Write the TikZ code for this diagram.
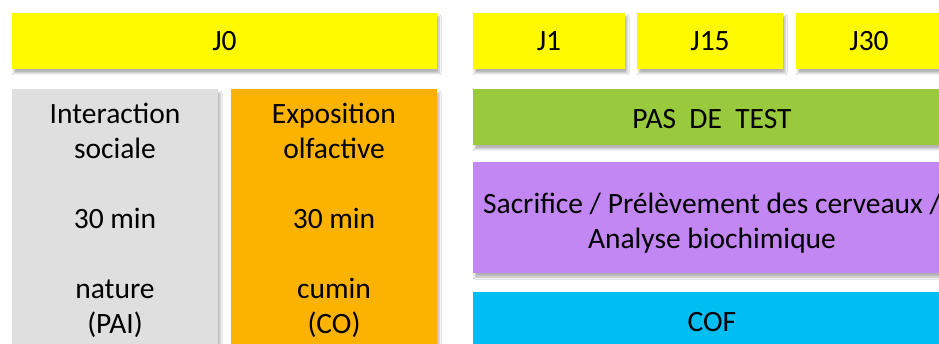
\documentclass[tikz,border=0pt]{standalone}
\usepackage{fontspec}
\setmainfont{Carlito}
\usetikzlibrary{shadows.blur}
\definecolor{cyel}{HTML}{FFFA00}
\definecolor{cgray}{HTML}{DFDFDF}
\definecolor{corange}{HTML}{FBB300}
\definecolor{cgreen}{HTML}{99C93C}
\definecolor{cpurple}{HTML}{C387F3}
\definecolor{ccyan}{HTML}{00BEF2}
\tikzset{
  txt/.style={inner sep=0pt, outer sep=0pt, align=center, font=\fontsize{29.5}{35}\selectfont},
  box/.style={rectangle, txt,
    blur shadow={shadow xshift=2pt, shadow yshift=-4pt, shadow blur steps=6, shadow blur radius=2pt, shadow opacity=30}},
  daybox/.style={box, fill=cyel, minimum height=56pt},
}
\begin{document}
\begin{tikzpicture}[x=1pt,y=-1pt]
\clip (0,0) rectangle (939,344);
\fill[white] (0,0) rectangle (939,344);
\node[daybox, minimum width=425pt] (j0) at (224.5,41) {J0};
\node[daybox, minimum width=152pt] (j1) at (549,41) {J1};
\node[daybox, minimum width=146pt] (j15) at (710,41) {J15};
\node[daybox, minimum width=146pt] (j30) at (869,41) {J30};
\node[box, fill=cgray, minimum width=206pt, minimum height=263pt] (soc) at (115,220.5)
  {Interaction\\sociale\\ \\30 min\\ \\nature\\(PAI)};
\node[box, fill=corange, minimum width=206pt, minimum height=263pt] (olf) at (334,220.5)
  {Exposition\\olfactive\\ \\30 min\\ \\cumin\\(CO)};
\node[box, fill=cgreen, minimum width=478pt, minimum height=56pt] (pas) at (712,117) {};
\node[txt] (pastxt) at ([yshift=-2pt]pas.center) {PAS\ \ DE\ \ TEST};
\node[box, fill=cpurple, minimum width=478pt, minimum height=111pt] (sac) at (712,217.5) {};
\node[txt] (sactxt) at ([yshift=-6pt]sac.center)
  {Sacrifice / Prélèvement des cerveaux /\\Analyse biochimique};
\node[box, fill=ccyan, minimum width=478pt, minimum height=60pt] (cof) at (712,322)
  {COF};
\end{tikzpicture}
\end{document}
